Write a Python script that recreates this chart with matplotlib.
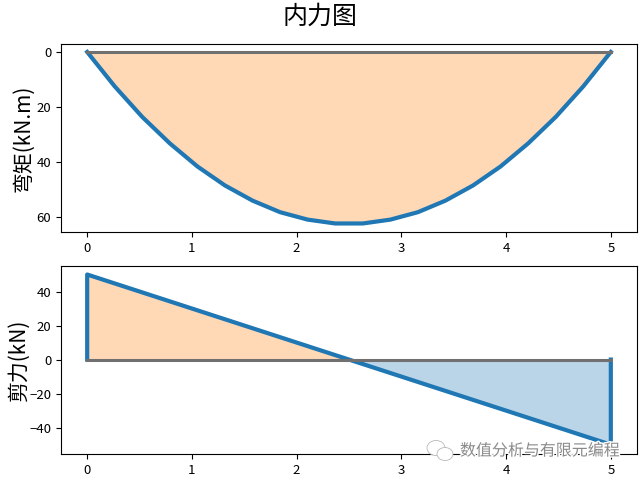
import matplotlib
matplotlib.use("Agg")
import matplotlib.pyplot as plt
import matplotlib.patheffects as pe
from matplotlib.patches import Ellipse

plt.rcParams["font.family"] = ["Noto Sans CJK SC", "DejaVu Sans"]

# 弯矩
x_m = [0, 0.263, 0.526, 0.789, 1.053, 1.316, 1.579, 1.842, 2.105, 2.368,
       2.632, 2.895, 3.158, 3.421, 3.684, 3.947, 4.211, 4.474, 4.737, 5]
moment = [0, 12.5, 23.6, 33.2, 41.6, 48.5, 54.0, 58.2, 60.9, 62.3,
          62.3, 60.9, 58.2, 54.0, 48.5, 41.6, 33.2, 23.6, 12.5, 0]
moment_ticks = [0, 20, 40, 60]

# 剪力
x_v = [0, 0, 2.5, 5, 5]
shear = [0, 50, 0, -50, 0]
x_pos = [0, 0, 2.5]
v_pos = [0, 50, 0]
x_neg = [2.5, 5, 5]
v_neg = [0, -50, 0]

base_x = [0, 5]
base_y = [0, 0]

BLUE = "#1f77b4"
ORANGE = "#ff7f0e"
GRAY = "#707070"

fig, (ax1, ax2) = plt.subplots(2, 1, figsize=(6.4, 4.8), dpi=100)
fig.subplots_adjust(left=61 / 640, right=637 / 640, top=1 - 44 / 480, bottom=1 - 454 / 480, hspace=34 / 188)
fig.suptitle("内力图", fontsize=18, y=0.993)

ax1.plot(x_m, moment, color=BLUE, lw=3)
ax1.fill_between(x_m, moment, 0, color=ORANGE, alpha=0.3, lw=0)
ax1.plot(base_x, base_y, color=GRAY, lw=2.2)
ax1.set_ylim(65.4, -2.9)
ax1.set_yticks(moment_ticks)
ax1.set_ylabel("弯矩(kN.m)", fontsize=15, labelpad=2)

ax2.plot(x_v, shear, color=BLUE, lw=3)
ax2.fill(x_pos, v_pos, color=ORANGE, alpha=0.3, lw=0)
ax2.fill(x_neg, v_neg, color=BLUE, alpha=0.3, lw=0)
ax2.plot(base_x, base_y, color=GRAY, lw=2.2)
ax2.set_ylim(-55.5, 55)
ax2.set_ylabel("剪力(kN)", fontsize=15, labelpad=0)

for ax in (ax1, ax2):
    ax.set_xlim(-0.25, 5.25)
    ax.tick_params(labelsize=9.5)

# 水印
halo = [pe.withStroke(linewidth=2, foreground="white")]
fig.text(460 / 640, 1 - 451 / 480, "数值分析与有限元编程", fontsize=11.5, color="#8a8a8a",
         va="center", ha="left", path_effects=halo, zorder=10)
for cx, cy, w, h in [(436, 448, 18, 15), (445, 454, 16, 13)]:
    fig.add_artist(Ellipse((cx / 640, 1 - cy / 480), w / 640, h / 480, transform=fig.transFigure,
                           facecolor="white", edgecolor="#b8b8b8", lw=0.6, zorder=9))

fig.savefig("out.png", dpi=100)
plt.close(fig)
